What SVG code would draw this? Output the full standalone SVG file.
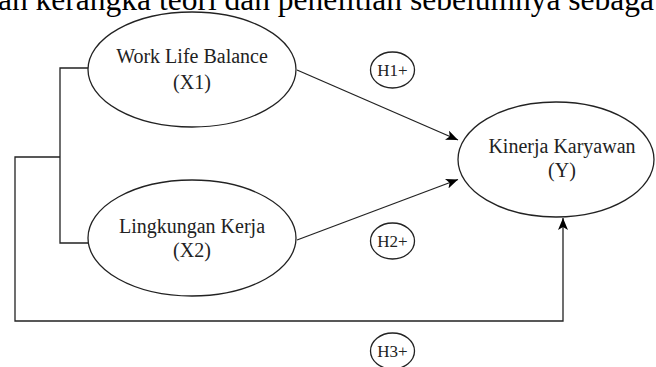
<svg xmlns="http://www.w3.org/2000/svg" width="656" height="367" viewBox="0 0 656 367">
<defs>
<marker id="arr" viewBox="0 0 12 10" refX="12" refY="5" markerWidth="12" markerHeight="10" markerUnits="userSpaceOnUse" orient="auto">
<path d="M0,0 L12,5 L0,10 L3,5 Z" fill="#000"/>
</marker>
<style>
.node{fill:#fff;stroke:#222;stroke-width:1.3}
.lbl{font-family:"Liberation Serif","Times New Roman",serif;font-size:20px;fill:#222;text-anchor:middle}
.h{font-family:"Liberation Serif","Times New Roman",serif;font-size:17px;fill:#222;text-anchor:middle}
.edge{fill:none;stroke:#222;stroke-width:1.3}
.top{font-family:"Liberation Serif","Times New Roman",serif;font-size:31.5px;fill:#000}
</style>
</defs>
<rect width="656" height="367" fill="#fff"/>
<text class="top" x="-2" y="10">an kerangka teori dan penelitian sebelumnya sebaga</text>
<g id="connectors">
<polyline class="edge" points="88,68 60,68 60,243 88,243"/>
<polyline class="edge" points="60,157 15,157 15,321 563,321 563,218" marker-end="url(#arr)"/>
<line class="edge" x1="297" y1="70" x2="458" y2="140" marker-end="url(#arr)"/>
<line class="edge" x1="297" y1="240" x2="458" y2="179.5" marker-end="url(#arr)"/>
</g>
<g id="x1">
<ellipse class="node" cx="192" cy="69.5" rx="104" ry="57.5"/>
<text class="lbl" x="192" y="62.5">Work Life Balance</text>
<text class="lbl" x="192" y="89">(X1)</text>
</g>
<g id="x2">
<ellipse class="node" cx="192" cy="238" rx="104" ry="58"/>
<text class="lbl" x="192" y="233">Lingkungan Kerja</text>
<text class="lbl" x="192" y="256.5">(X2)</text>
</g>
<g id="y">
<ellipse class="node" cx="556" cy="159.5" rx="98" ry="57.5"/>
<text class="lbl" x="562" y="153">Kinerja Karyawan</text>
<text class="lbl" x="562" y="176.5">(Y)</text>
</g>
<g id="h1">
<ellipse class="node" cx="392.5" cy="70" rx="22" ry="18"/>
<text class="h" x="392.5" y="76">H1+</text>
</g>
<g id="h2">
<ellipse class="node" cx="392.5" cy="241" rx="22" ry="18"/>
<text class="h" x="392.5" y="247">H2+</text>
</g>
<g id="h3">
<ellipse class="node" cx="392.5" cy="351" rx="22" ry="18"/>
<text class="h" x="392.5" y="357">H3+</text>
</g>
</svg>
